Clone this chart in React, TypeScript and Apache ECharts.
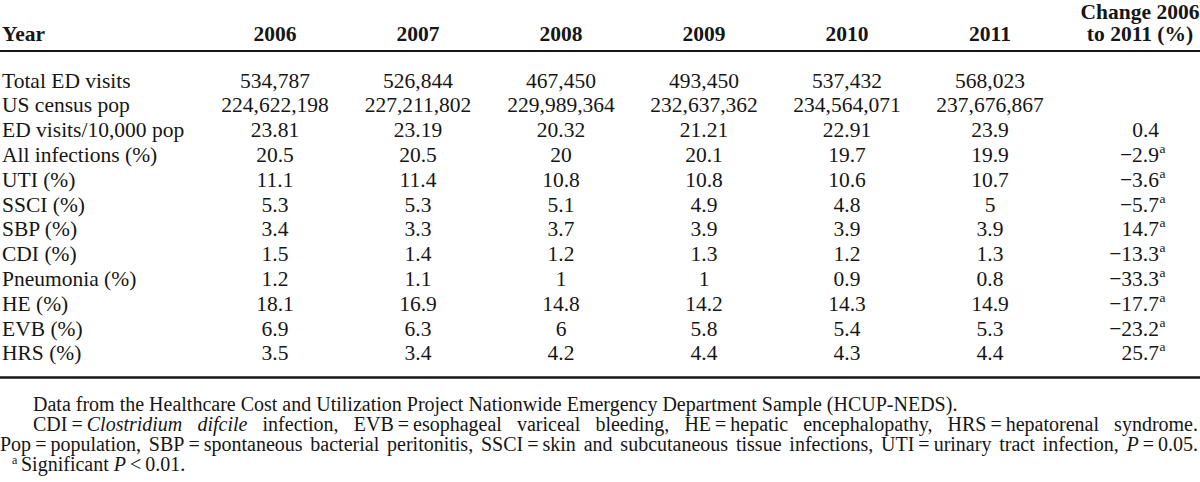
import React, { useEffect, useRef } from 'react';
import * as echarts from 'echarts';

// ---------- data ----------
const years = ['2006', '2007', '2008', '2009', '2010', '2011'];
const firstHeader = 'Year';
const changeHeader = ['Change 2006', 'to 2011 (%)'];
const rowLabels = [
  'Total ED visits', 'US census pop', 'ED visits/10,000 pop', 'All infections (%)',
  'UTI (%)', 'SSCI (%)', 'SBP (%)', 'CDI (%)', 'Pneumonia (%)', 'HE (%)', 'EVB (%)', 'HRS (%)',
];
const totalEdVisits = [534787, 526844, 467450, 493450, 537432, 568023];
const censusPop = [224622198, 227211802, 229989364, 232637362, 234564071, 237676867];
const visitsPer10k = [23.81, 23.19, 20.32, 21.21, 22.91, 23.9];
const allInfections = [20.5, 20.5, 20, 20.1, 19.7, 19.9];
const uti = [11.1, 11.4, 10.8, 10.8, 10.6, 10.7];
const ssci = [5.3, 5.3, 5.1, 4.9, 4.8, 5];
const sbp = [3.4, 3.3, 3.7, 3.9, 3.9, 3.9];
const cdi = [1.5, 1.4, 1.2, 1.3, 1.2, 1.3];
const pneumonia = [1.2, 1.1, 1, 1, 0.9, 0.8];
const he = [18.1, 16.9, 14.8, 14.2, 14.3, 14.9];
const evb = [6.9, 6.3, 6, 5.8, 5.4, 5.3];
const hrs = [3.5, 3.4, 4.2, 4.4, 4.3, 4.4];
const changePct: (number | null)[] = [null, null, 0.4, -2.9, -3.6, -5.7, 14.7, -13.3, -33.3, -17.7, -23.2, 25.7];
const changeSignificant = [false, false, false, true, true, true, true, true, true, true, true, true];
const significanceMark = 'a';

type Run = { t: string; i?: boolean };
const footLine1 = 'Data from the Healthcare Cost and Utilization Project Nationwide Emergency Department Sample (HCUP-NEDS).';
const footLine2: Run[][] = [
  [{ t: 'CDI\u2009=\u2009' }, { t: 'Clostridium', i: true }],
  [{ t: 'difcile', i: true }],
  [{ t: 'infection,' }],
  [{ t: 'EVB\u2009=\u2009esophageal' }],
  [{ t: 'variceal' }],
  [{ t: 'bleeding,' }],
  [{ t: 'HE\u2009=\u2009hepatic' }],
  [{ t: 'encephalopathy,' }],
  [{ t: 'HRS\u2009=\u2009hepatorenal' }],
  [{ t: 'syndrome.' }],
];
const footLine3: Run[][] = [
  [{ t: 'Pop\u2009=\u2009population,' }],
  [{ t: 'SBP\u2009=\u2009spontaneous' }],
  [{ t: 'bacterial' }],
  [{ t: 'peritonitis,' }],
  [{ t: 'SSCI\u2009=\u2009skin' }],
  [{ t: 'and' }],
  [{ t: 'subcutaneous' }],
  [{ t: 'tissue' }],
  [{ t: 'infections,' }],
  [{ t: 'UTI\u2009=\u2009urinary' }],
  [{ t: 'tract' }],
  [{ t: 'infection,' }],
  [{ t: 'P', i: true }, { t: '\u2009=\u20090.05.' }],
];
const footLine4: Run[] = [{ t: 'Significant ' }, { t: 'P', i: true }, { t: '\u2009<\u20090.01.' }];

// ---------- layout / style ----------
const FONT = '"Liberation Serif", "Times New Roman", serif';
const INK = '#161616';
const BODY_SIZE = 21.5;
const FOOT_SIZE = 20;
const colX = [275, 418, 561, 704, 847, 990];
const changeRightX = 1159;
const changeCenterX = 1140;
const rowY0 = 80.5;
const rowStep = 24.8;
const footY = [403.5, 423.5, 443.5, 463.5];

const fmtInt = (n: number) => n.toLocaleString('en-US');
const fmtNum = (n: number) => (n < 0 ? '\u2212' + String(-n) : String(n));

let measureCtx: CanvasRenderingContext2D | null = null;
function measure(text: string, size: number, italic = false, bold = false) {
  if (!measureCtx) measureCtx = document.createElement('canvas').getContext('2d');
  measureCtx!.font = `${italic ? 'italic ' : ''}${bold ? 'bold ' : ''}${size}px ${FONT}`;
  return measureCtx!.measureText(text).width;
}

function txt(x: number, y: number, text: string, o: any = {}) {
  const align = o.align || 'left';
  const style: any = {
    text,
    fill: INK,
    fontFamily: FONT,
    fontSize: o.size || BODY_SIZE,
    fontWeight: o.bold ? 'bold' : 'normal',
    fontStyle: o.italic ? 'italic' : 'normal',
    align,
    textAlign: align,
    verticalAlign: 'middle',
    textVerticalAlign: 'middle',
  };
  return { type: 'text', x, y, silent: true, style };
}

function runsAt(x: number, y: number, runs: Run[], size: number) {
  const out: any[] = [];
  let cx = x;
  runs.forEach((r) => {
    out.push(txt(cx, y, r.t, { size, italic: r.i }));
    cx += measure(r.t, size, r.i);
  });
  return { els: out, end: cx };
}

function justified(words: Run[][], x0: number, x1: number, y: number, size: number) {
  const widths = words.map((w) => w.reduce((s, r) => s + measure(r.t, size, r.i), 0));
  const total = widths.reduce((a, b) => a + b, 0);
  const gap = (x1 - x0 - total) / (words.length - 1);
  const els: any[] = [];
  let cx = x0;
  words.forEach((w, k) => {
    els.push(...runsAt(cx, y, w, size).els);
    cx += widths[k] + gap;
  });
  return els;
}

function buildElements() {
  const els: any[] = [];
  // header
  els.push(txt(2, 34, firstHeader, { bold: true }));
  years.forEach((yr, k) => els.push(txt(colX[k], 34, yr, { bold: true, align: 'center' })));
  els.push(txt(changeCenterX, 12, changeHeader[0], { bold: true, align: 'center' }));
  els.push(txt(changeCenterX, 34, changeHeader[1], { bold: true, align: 'center' }));
  // rules
  els.push({ type: 'line', silent: true, shape: { x1: 0, y1: 51, x2: 1200, y2: 51 }, style: { stroke: INK, lineWidth: 2 } });
  els.push({ type: 'line', silent: true, shape: { x1: 0, y1: 377.5, x2: 1200, y2: 377.5 }, style: { stroke: INK, lineWidth: 2.5 } });

  const rows: string[][] = [
    totalEdVisits.map(fmtInt),
    censusPop.map(fmtInt),
    visitsPer10k.map(fmtNum),
    allInfections.map(fmtNum),
    uti.map(fmtNum),
    ssci.map(fmtNum),
    sbp.map(fmtNum),
    cdi.map(fmtNum),
    pneumonia.map(fmtNum),
    he.map(fmtNum),
    evb.map(fmtNum),
    hrs.map(fmtNum),
  ];
  rows.forEach((vals, r) => {
    const y = rowY0 + r * rowStep;
    els.push(txt(2, y, rowLabels[r]));
    vals.forEach((v, k) => els.push(txt(colX[k], y, v, { align: 'center' })));
    const c = changePct[r];
    if (c !== null) {
      els.push(txt(changeRightX, y, fmtNum(c), { align: 'right' }));
      if (changeSignificant[r]) els.push(txt(changeRightX + 0.5, y - 6.5, significanceMark, { size: 13.5 }));
    }
  });

  // footnotes
  els.push(txt(33, footY[0], footLine1, { size: FOOT_SIZE }));
  els.push(...justified(footLine2, 33, 1198, footY[1], FOOT_SIZE));
  els.push(...justified(footLine3, 0, 1198, footY[2], FOOT_SIZE));
  els.push(txt(12, footY[3] - 3.5, significanceMark, { size: 12 }));
  els.push(...runsAt(21, footY[3], footLine4, FOOT_SIZE).els);
  return els;
}

export default function App() {
  const ref = useRef<HTMLDivElement>(null);
  useEffect(() => {
    if (!ref.current) return;
    const chart = echarts.init(ref.current, undefined, { renderer: 'svg' });
    chart.setOption({
      animation: false,
      backgroundColor: '#ffffff',
      graphic: { elements: buildElements() },
    });
    return () => chart.dispose();
  }, []);
  return (
    <div
      ref={ref}
      style={{ position: 'fixed', left: 0, top: 0, width: 1200, height: 482, background: '#fff' }}
    />
  );
}
